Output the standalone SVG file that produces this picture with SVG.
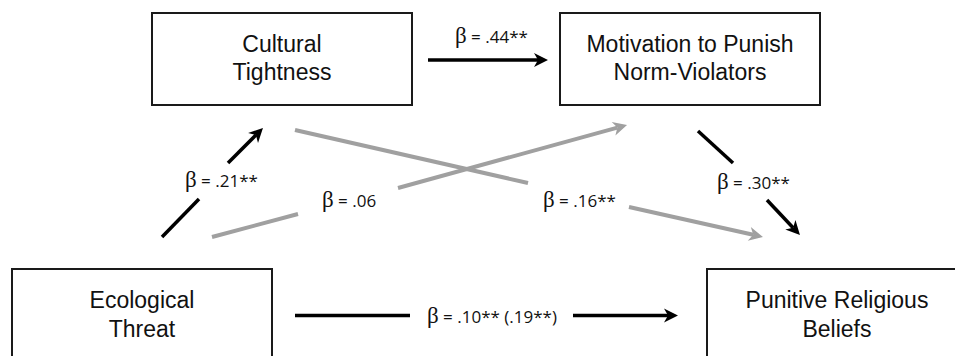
<svg xmlns="http://www.w3.org/2000/svg" width="955" height="356" viewBox="0 0 955 356">
<style>
.box{fill:#fff;stroke:#1a1a1a;stroke-width:2}
.nt{font-family:"Liberation Sans",Arial,sans-serif;font-size:23px;fill:#111;text-anchor:middle}
.lab{font-family:"Open Sans","Liberation Sans",sans-serif;font-size:17px;fill:#111}
.b{font-family:"Liberation Serif","Times New Roman",serif;font-size:23px}
.blk{stroke:#000;stroke-width:3.5;fill:none}
.gry{stroke:#a0a0a0;stroke-width:4;fill:none}
</style>
<defs>
<marker id="ab" markerUnits="userSpaceOnUse" markerWidth="16" markerHeight="16" refX="4" refY="0" viewBox="0 -8 16 16" orient="auto" overflow="visible">
<path d="M0,-7 L14,0 L0,7 L4,0 Z" fill="#000"/>
</marker>
<marker id="ag" markerUnits="userSpaceOnUse" markerWidth="16" markerHeight="16" refX="4" refY="0" viewBox="0 -8 16 16" orient="auto" overflow="visible">
<path d="M0,-7 L14,0 L0,7 L4,0 Z" fill="#a0a0a0"/>
</marker>
</defs>
<rect width="955" height="356" fill="#fff"/>
<g id="connectors">
<line class="blk" x1="428" y1="60" x2="538" y2="60" marker-end="url(#ab)"/>
<line class="blk" x1="295" y1="315.5" x2="410" y2="315.5"/>
<line class="blk" x1="573" y1="315.5" x2="668" y2="315.5" marker-end="url(#ab)"/>
<line class="blk" x1="162" y1="237" x2="199" y2="199"/>
<line class="blk" x1="228" y1="163" x2="255.9" y2="135.1" marker-end="url(#ab)"/>
<line class="gry" x1="212" y1="237" x2="298" y2="214"/>
<line class="gry" x1="398" y1="188" x2="617.4" y2="127.6" marker-end="url(#ag)"/>
<line class="gry" x1="295" y1="130" x2="528" y2="183"/>
<line class="gry" x1="629" y1="207" x2="753.2" y2="234.8" marker-end="url(#ag)"/>
<line class="blk" x1="698" y1="131" x2="733" y2="163"/>
<line class="blk" x1="767" y1="200" x2="793.1" y2="227.7" marker-end="url(#ab)"/>
<text class="lab" x="455" y="43"><tspan class="b">β</tspan> = .44**</text>
<text class="lab" x="185" y="187"><tspan class="b">β</tspan> = .21**</text>
<text class="lab" x="322" y="207"><tspan class="b">β</tspan> = .06</text>
<text class="lab" x="543" y="207"><tspan class="b">β</tspan> = .16**</text>
<text class="lab" x="717" y="189"><tspan class="b">β</tspan> = .30**</text>
<text class="lab" x="427" y="323"><tspan class="b">β</tspan> = .10** (.19**)</text>
</g>
<g id="cultural">
<rect class="box" x="152" y="13" width="260" height="92"/>
<text class="nt" x="282" y="52">Cultural</text>
<text class="nt" x="282" y="80">Tightness</text>
</g>
<g id="motivation">
<rect class="box" x="560" y="13" width="260" height="92"/>
<text class="nt" x="690" y="52">Motivation to Punish</text>
<text class="nt" x="690" y="80">Norm-Violators</text>
</g>
<g id="ecological">
<rect class="box" x="12" y="269" width="260" height="92"/>
<text class="nt" x="142" y="308">Ecological</text>
<text class="nt" x="142" y="337">Threat</text>
</g>
<g id="punitive">
<rect class="box" x="707" y="269" width="260" height="92"/>
<text class="nt" x="837" y="308">Punitive Religious</text>
<text class="nt" x="837" y="337">Beliefs</text>
</g>
</svg>
